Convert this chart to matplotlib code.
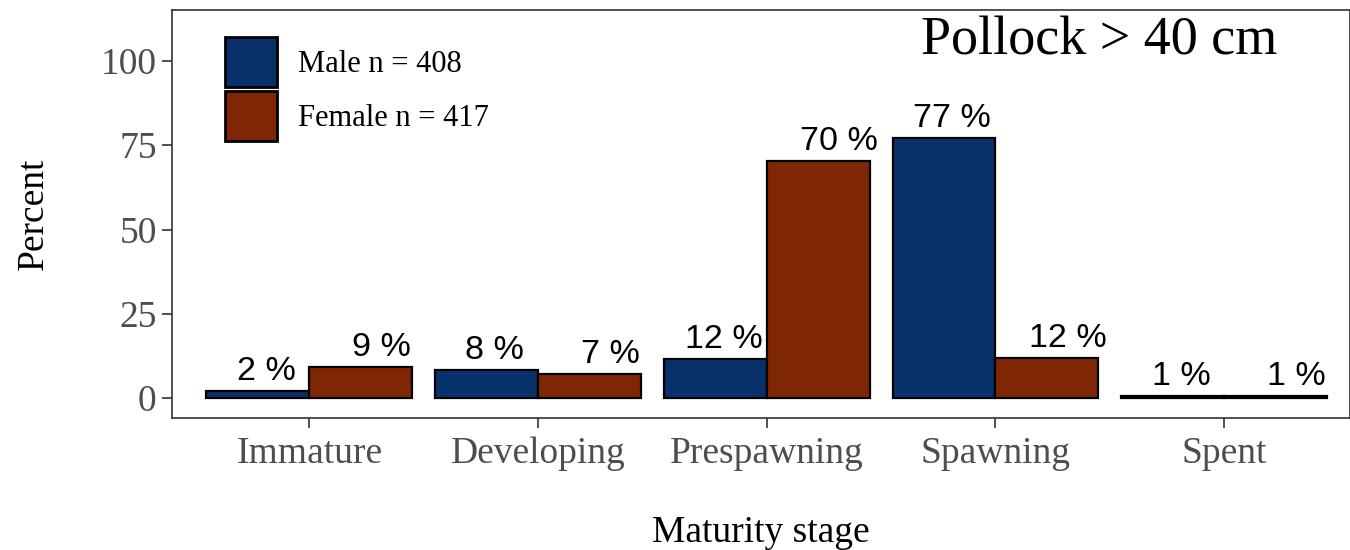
import numpy as np
import matplotlib
matplotlib.use("Agg")
import matplotlib.pyplot as plt
from matplotlib.patches import Patch

# ── data ──────────────────────────────────────────────────────────────────────
stages = ["Immature", "Developing", "Prespawning", "Spawning", "Spent"]
male   = [2.1, 8.3, 11.6, 77.2, 0.5]
female = [9.2, 7.1, 70.4, 11.9, 0.6]
legend_labels = ["Male n = 408", "Female n = 417"]
title_text = "Pollock > 40 cm"

MALE_COL   = "#08306B"
FEMALE_COL = "#7F2704"
GREY       = "#4D4D4D"

plt.rcParams["font.family"] = ["Liberation Serif", "DejaVu Serif"]

fig = plt.figure(figsize=(13.5, 5.5), dpi=100)
ax = fig.add_axes([172 / 1350, 132 / 550, 1 - 172 / 1350, 408 / 550])

x = np.arange(len(stages))
w = 0.45
b1 = ax.bar(x - w / 2, male, width=w, color=MALE_COL, edgecolor="black", linewidth=1.6)
b2 = ax.bar(x + w / 2, female, width=w, color=FEMALE_COL, edgecolor="black", linewidth=1.6)

# percent labels (slightly shifted right, as in the original)
for bars, vals, dx in [(b1, male, 6), (b2, female, 15)]:
    for rect, v in zip(bars, vals):
        ax.annotate(f"{max(1, round(v))} %",
                    (rect.get_x() + rect.get_width() / 2, rect.get_height()),
                    textcoords="offset points", xytext=(dx, 3),
                    ha="center", va="bottom", fontsize=24.5,
                    family=["Liberation Sans", "DejaVu Sans"], color="black")

ax.set_xlim(-0.6, 4.55)
ax.set_ylim(-5.9, 115.1)
ax.set_xticks(x)
ax.set_xticklabels(stages)
ax.set_yticks([0, 25, 50, 75, 100])
ax.tick_params(axis="both", labelsize=27, labelcolor=GREY, color="#333333",
               length=7, width=1.2)
ax.tick_params(axis="x", pad=6)
ax.tick_params(axis="y", pad=4)
for s in ax.spines.values():
    s.set_color("#333333")
    s.set_linewidth(1.2)

ax.set_xlabel("Maturity stage", fontsize=27, labelpad=32)
ax.set_ylabel("Percent", fontsize=27, labelpad=36)

handles = [Patch(facecolor=MALE_COL, edgecolor="black", linewidth=2),
           Patch(facecolor=FEMALE_COL, edgecolor="black", linewidth=2)]
ax.legend(handles, legend_labels, loc="upper left",
          bbox_to_anchor=(225 / 1350, 1 - 37 / 550), bbox_transform=fig.transFigure,
          frameon=False, fontsize=22, handlelength=1.7, handleheight=2.15,
          labelspacing=0.13, handletextpad=0.69, borderpad=0, borderaxespad=0)

fig.text(1099 / 1350, 1 - 41 / 550, title_text, fontsize=39,
         ha="center", va="center", family=["Liberation Serif", "DejaVu Serif"])

fig.savefig("out.png", dpi=100)
